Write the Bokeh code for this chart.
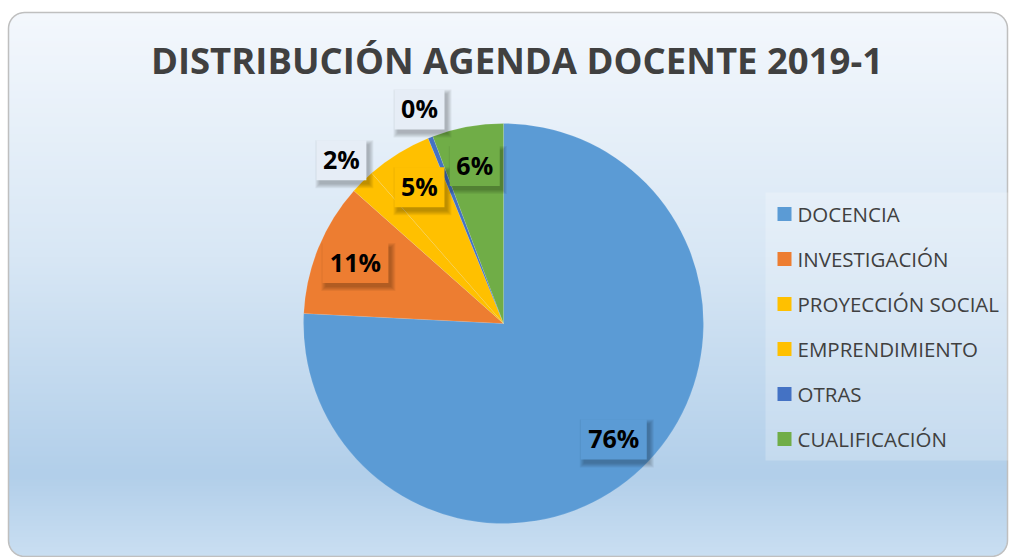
import numpy as np
from bokeh.plotting import figure
from bokeh.models import Range1d, ColumnDataSource
from bokeh.core.properties import value
from bokeh.embed import file_html
from bokeh.resources import INLINE

# ---------------- data ----------------
title = "DISTRIBUCIÓN AGENDA DOCENTE 2019-1"
categories = ["DOCENCIA", "INVESTIGACIÓN", "PROYECCIÓN SOCIAL",
              "EMPRENDIMIENTO", "OTRAS", "CUALIFICACIÓN"]
percentages = [75.8, 10.75, 2.0, 5.3, 0.4, 5.75]
colors = ["#5B9BD5", "#ED7D31", "#FFC000", "#FFC000", "#4472C4", "#70AD47"]
label_outside = [False, False, True, False, True, False]

# ---------------- figure ----------------
W, H = 1013, 557
p = figure(width=W, height=H, x_range=Range1d(0, W), y_range=Range1d(0, H),
           output_backend="svg", toolbar_location=None, min_border=0,
           x_axis_location=None, y_axis_location=None)
p.grid.visible = False
p.outline_line_color = None
p.background_fill_color = "white"
p.border_fill_color = "white"

def page_y(y):  # page y -> data y
    return H - y

# ---------------- background gradient with rounded corners ----------------
X0, X1, Y0, Y1, RAD = 8.0, 1007.0, 12.0, 556.0, 16.0  # page coordinates
img = np.empty((H, W), dtype=np.uint32)
view = img.view(dtype=np.uint8).reshape((H, W, 4))
py = H - (np.arange(H) + 0.5)
px = np.arange(W) + 0.5
t = np.clip((py - Y0) / (Y1 - Y0), 0, 1)
st = [0, 0.45, 0.85, 1.0]
rr = np.interp(t, st, [244, 216, 178, 202])
gg = np.interp(t, st, [248, 231, 207, 223])
bb = np.interp(t, st, [253, 245, 234, 242])
PX, PY = np.meshgrid(px, py)
dx = np.maximum(np.maximum(X0 + RAD - PX, 0), PX - (X1 - RAD))
dy = np.maximum(np.maximum(Y0 + RAD - PY, 0), PY - (Y1 - RAD))
inside = (dx ** 2 + dy ** 2 <= RAD ** 2) & (PX >= X0) & (PX <= X1) & (PY >= Y0) & (PY <= Y1)
view[:, :, 0] = rr[:, None]
view[:, :, 1] = gg[:, None]
view[:, :, 2] = bb[:, None]
view[:, :, 3] = np.where(inside, 255, 0)
p.image_rgba(image=[img], x=0, y=0, dw=W, dh=H)

def rounded_rect(x0, x1, y0, y1, r, n=12):
    xs, ys = [], []
    corners = [(x1 - r, y1 - r, 0), (x0 + r, y1 - r, 90), (x0 + r, y0 + r, 180), (x1 - r, y0 + r, 270)]
    for cxx, cyy, a0 in corners:
        a = np.radians(np.linspace(a0, a0 + 90, n))
        xs.extend(cxx + r * np.cos(a)); ys.extend(cyy + r * np.sin(a))
    return xs, ys

bx, by = rounded_rect(X0, X1, page_y(Y1), page_y(Y0), RAD)
p.patch(bx, by, fill_color=None, line_color="#BFBFBF", line_width=1.5)

# ---------------- pie ----------------
frac = np.array(percentages) / sum(percentages)
cum = np.concatenate([[0], np.cumsum(frac)])
start = np.pi / 2 - 2 * np.pi * cum[:-1]
end = np.pi / 2 - 2 * np.pi * cum[1:]
cx, cy, R = 503, page_y(323), 200
src = ColumnDataSource(dict(start=start, end=end, color=colors, cat=categories))
p.wedge(x=cx, y=cy, radius=R, start_angle="start", end_angle="end", direction="clock",
        fill_color="color", line_color="white", line_alpha=0.15, line_width=0.7, source=src)

# ---------------- data labels ----------------
mid = (start + end) / 2
rf = np.where(label_outside, 1.15, 0.8)
lx = cx + R * rf * np.cos(mid)
ly = cy + R * rf * np.sin(mid)
texts = [f"{int(round(v))}%" for v in percentages]
bw = np.array([16 * len(s) + 18 for s in texts])
bfill = [("#E6EDF6" if o else c) for o, c in zip(label_outside, colors)]
for k in range(5):
    p.rect(x=lx + 3, y=ly - 4, width=bw + 2 * k, height=40 + 2 * k,
           fill_color="black", fill_alpha=0.055, line_color=None)
p.rect(x=lx, y=ly, width=bw, height=40, fill_color=bfill, line_color=None)
p.text(x=lx, y=ly + 1, text=texts, text_font=value("Open Sans"), text_font_style="bold",
       text_font_size="25px", text_color="#000000", text_align="center",
       text_baseline="middle")

# ---------------- legend ----------------
p.rect(x=888, y=page_y(326), width=246, height=268, fill_color="white",
       fill_alpha=0.22, line_color=None)
row_y = np.array([page_y(213.5) - 45 * i for i in range(len(categories))])
p.rect(x=784, y=row_y, width=14, height=14, fill_color=colors, line_color=None)
p.text(x=797, y=row_y, text=categories, text_font=value("Open Sans"),
       text_font_size="20.5px", text_color="#404040", text_align="left",
       text_baseline="middle")

# ---------------- title ----------------
p.text(x=[516.5], y=[page_y(59)], text=[title], text_font=value("Open Sans"),
       text_font_style="bold", text_font_size="36.5px", text_color="#404040",
       text_align="center", text_baseline="middle")

open("out.html", "w").write(file_html(p, INLINE))
